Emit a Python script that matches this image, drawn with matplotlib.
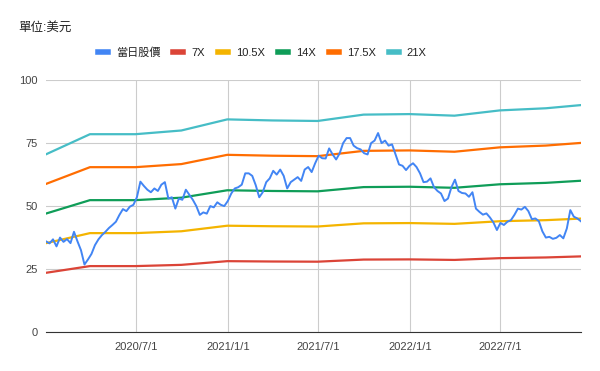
import numpy as np
import pandas as pd
import matplotlib
matplotlib.use('Agg')
from matplotlib import pyplot as plt
import matplotlib.dates as mdates

plt.rcParams['font.family'] = ['Liberation Sans', 'Noto Sans CJK TC', 'DejaVu Sans']

# weekly closing prices, from 2020-01-03
price = [36.0, 35.2, 36.8, 34.0, 37.5, 35.8, 36.9, 35.3, 39.8, 36.0,
         32.5, 26.8, 28.8, 31.0, 34.5, 36.8, 38.5, 39.8, 41.3, 42.5,
         43.8, 46.5, 48.8, 48.0, 49.8, 50.5, 53.5, 59.7, 58.0, 56.5,
         55.5, 57.0, 56.0, 58.5, 59.5, 53.0, 53.5, 49.0, 53.0, 52.5,
         56.5, 54.5, 52.5, 50.0, 46.5, 47.5, 47.0, 50.0, 49.5, 51.5,
         50.5, 50.0, 52.0, 55.0, 57.0, 57.5, 58.5, 63.0, 63.0, 62.0,
         58.3, 53.5, 55.5, 59.5, 61.0, 64.0, 62.5, 64.5, 62.0, 57.0,
         59.5, 60.5, 61.5, 60.0, 64.5, 65.5, 63.5, 67.0, 70.0, 69.0,
         68.9, 72.9, 70.5, 68.5, 70.9, 75.0, 77.0, 77.0, 74.0, 73.0,
         72.5, 71.0, 70.5, 75.0, 76.0, 79.0, 75.0, 76.0, 74.0, 74.5,
         70.5, 66.5, 66.0, 64.3, 66.0, 67.0, 65.5, 63.0, 59.5, 59.7,
         61.0, 57.5, 56.0, 55.0, 52.0, 53.0, 57.5, 60.5, 56.0, 55.2,
         55.0, 53.7, 55.5, 49.0, 47.7, 46.6, 47.1, 45.5, 43.5, 40.5,
         43.3, 42.5, 43.8, 44.4, 46.5, 49.0, 48.6, 49.7, 48.0, 44.8,
         45.1, 44.0, 40.0, 37.5, 37.8, 37.0, 37.4, 38.5, 37.2, 41.1,
         48.4, 45.8, 45.1, 44.0]
price_dates = pd.date_range('2020-01-03', periods=len(price), freq='7D')

# EPS used for the PE bands
eps_dates = pd.to_datetime(['2020-01-03', '2020-03-31', '2020-06-30', '2020-09-30',
                            '2020-12-31', '2021-03-31', '2021-06-30', '2021-09-30',
                            '2021-12-31', '2022-03-31', '2022-06-30', '2022-09-30',
                            '2022-12-09'])
eps = np.array([3.36, 3.74, 3.74, 3.81, 4.02, 4.00, 3.99, 4.11,
                4.12, 4.09, 4.19, 4.23, 4.29])
multiples = [7, 10.5, 14, 17.5, 21]
band_labels = ['7X', '10.5X', '14X', '17.5X', '21X']
band_colors = ['#db4437', '#f4b400', '#0f9d58', '#ff6d01', '#46bdc6']

xtick_dates = pd.to_datetime(['2020-07-01', '2021-01-01', '2021-07-01', '2022-01-01', '2022-07-01'])
xtick_labels = ['2020/7/1', '2021/1/1', '2021/7/1', '2022/1/1', '2022/7/1']

fig = plt.figure(figsize=(6, 3.71), dpi=100)
ax = fig.add_axes([0.0767, 0.105, 0.8913, 0.679])

ax.plot(price_dates, price, color='#4285f4', lw=1.4, label='當日股價', zorder=3)
for m, lab, c in zip(multiples, band_labels, band_colors):
    ax.plot(eps_dates, eps * m, color=c, lw=1.6, label=lab, zorder=2)

ax.set_ylim(0, 100)
ax.set_yticks([0, 25, 50, 75, 100])
ax.set_xlim(price_dates[0], price_dates[-1])
ax.set_xticks(xtick_dates)
ax.set_xticklabels(xtick_labels)
ax.grid(True, color='#cccccc', lw=0.8)
ax.set_axisbelow(True)
for s in ['top', 'right', 'left']:
    ax.spines[s].set_visible(False)
ax.spines['bottom'].set_color('#333333')
ax.tick_params(length=0, labelsize=8, colors='#444444', pad=7)
ax.tick_params(axis='y', pad=6)

fig.text(0.03, 0.925, '單位:美元', fontsize=9, color='#222222', va='center')
leg = fig.legend(loc='center', bbox_to_anchor=(0.437, 0.857), ncol=6, frameon=False,
                 fontsize=8, handlelength=0.9, handletextpad=0.7, columnspacing=1.2)
for h in leg.legend_handles:
    h.set_linewidth(4)
for t in leg.get_texts():
    t.set_color('#222222')

fig.savefig('out.png', dpi=100)
